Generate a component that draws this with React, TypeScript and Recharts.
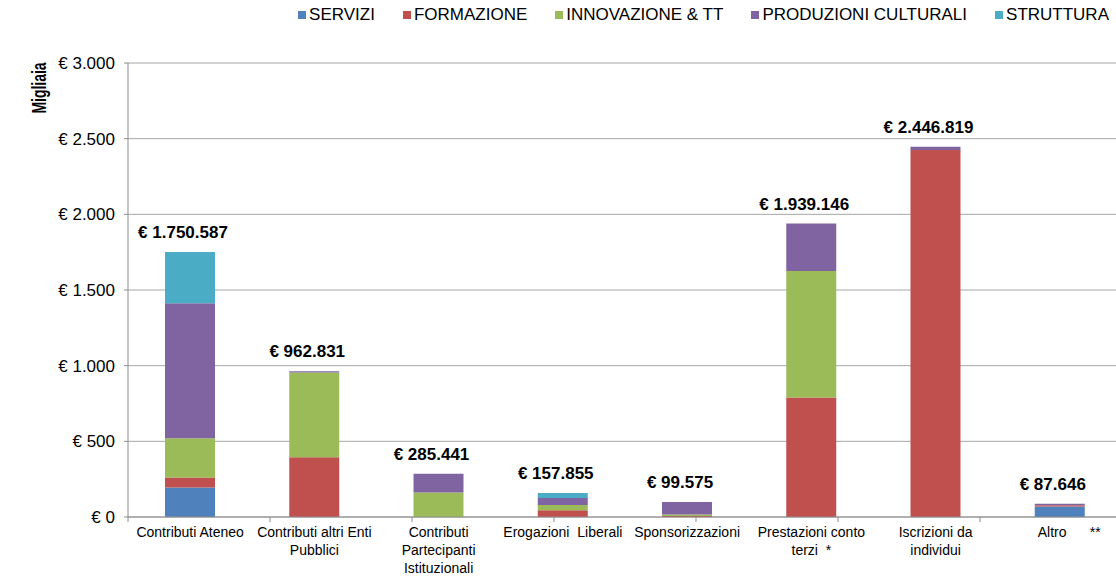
import React from 'react';
import { BarChart, Bar, XAxis, YAxis, CartesianGrid, Legend, LabelList, Label } from 'recharts';

// Categories (tick labels, "\n" = line break)
const categories = [
  'Contributi Ateneo',
  'Contributi altri Enti\nPubblici',
  'Contributi\nPartecipanti\nIstituzionali',
  'Erogazioni  Liberali',
  'Sponsorizzazioni',
  'Prestazioni conto\nterzi  *',
  'Iscrizioni da\nindividui',
  '     Altro      **',
];

// Series values (thousands of euro)
const servizi = [195, 0, 0, 0, 0, 0, 0, 70];
const formazione = [66, 395, 0, 45, 7, 790, 2425, 8];
const innovazione = [260, 560, 162, 35, 10, 835, 0, 0];
const produzioni = [892, 7.8, 123.4, 46, 82.6, 314.1, 21.8, 9.6];
const struttura = [337.6, 0, 0, 31.9, 0, 0, 0, 0];

// Totals shown above bars (euro)
const totals = [1750587, 962831, 285441, 157855, 99575, 1939146, 2446819, 87646];

// Y axis ticks
const yTicks = [0, 500, 1000, 1500, 2000, 2500, 3000];
const boundaryTicks = [0, 1, 2, 3, 4, 5, 6, 7, 8];

const series = [
  { key: 'servizi', name: 'SERVIZI', color: '#4F81BD', values: servizi },
  { key: 'formazione', name: 'FORMAZIONE', color: '#C0504D', values: formazione },
  { key: 'innovazione', name: 'INNOVAZIONE & TT', color: '#9BBB59', values: innovazione },
  { key: 'produzioni', name: 'PRODUZIONI CULTURALI', color: '#8064A2', values: produzioni },
  { key: 'struttura', name: 'STRUTTURA', color: '#4BACC6', values: struttura },
];

// index of the topmost non-zero series for each category
const topSeries = categories.map((_, i) => {
  let top = 0;
  series.forEach((s, k) => {
    if (s.values[i] > 0) top = k;
  });
  return top;
});

const data = categories.map((c, i) => {
  const row: any = { name: c, total: totals[i] };
  series.forEach((s, k) => {
    row[s.key] = s.values[i];
    row['label_' + s.key] = topSeries[i] === k ? totals[i] : null;
  });
  return row;
});

const dotted = (n: number) => String(n).replace(/\B(?=(\d{3})+(?!\d))/g, '.');
const euro = (n: number) => '€ ' + dotted(n);

const XTick = (props: any) => {
  const { x, y, payload } = props;
  const lines = String(payload.value).split('\n');
  return (
    <text x={x} y={y} textAnchor="middle" fontSize={14} fill="#000" style={{ whiteSpace: 'pre' }}>
      {lines.map((l, i) => (
        <tspan key={i} x={x} dy={i === 0 ? 19 : 18}>
          {l}
        </tspan>
      ))}
    </text>
  );
};

const EmptyTick = () => null;

const YTick = (props: any) => {
  const { x, y, payload } = props;
  return (
    <text x={x} y={y} dy="0.355em" textAnchor="end" fontSize={17} fill="#000">
      {euro(payload.value)}
    </text>
  );
};

const TotalLabel = (props: any) => {
  const v = props.value;
  if (v == null || v === '') return null;
  const vb = props.viewBox || {};
  const bx = vb.x ?? props.x;
  const bw = vb.width ?? props.width;
  const by = vb.y ?? props.y;
  const bh = vb.height ?? props.height ?? 0;
  const top = Math.min(by, by + bh);
  return (
    <text x={bx + bw / 2 - 7} y={top - 14} textAnchor="middle" fontSize={17} fontWeight="bold" fill="#000">
      {euro(Number(v))}
    </text>
  );
};

const MigliaiaLabel = (props: any) => {
  const vb = props.viewBox || { x: 0, y: 63 };
  const cx = vb.x + 39;
  const cy = vb.y + 25;
  return (
    <text
      x={cx}
      y={cy}
      transform={`rotate(-90, ${cx}, ${cy})`}
      textAnchor="middle"
      dominantBaseline="central"
      fontSize={20}
      fontWeight="bold"
      fill="#000"
      textLength={51}
      lengthAdjust="spacingAndGlyphs"
    >
      Migliaia
    </text>
  );
};

const LegendContent = () => (
  <div style={{ position: 'relative', height: 0 }}>
    <div
      style={{
        position: 'absolute',
        top: 5,
        right: 7,
        display: 'flex',
        gap: 28,
        whiteSpace: 'nowrap',
        fontSize: 17,
        color: '#000',
        lineHeight: '20px',
      }}
    >
      {series.map((s) => (
        <div key={s.key} style={{ display: 'flex', alignItems: 'center' }}>
          <span style={{ display: 'inline-block', width: 8, height: 8, background: s.color, marginRight: 3 }} />
          {s.name}
        </div>
      ))}
    </div>
  </div>
);

export default function App() {
  return (
    <div
      style={{
        position: 'absolute',
        left: 0,
        top: 0,
        width: 1116,
        height: 578,
        overflow: 'hidden',
        background: '#fff',
        fontFamily: '"Liberation Sans", Arial, Helvetica, sans-serif',
      }}
    >
      <BarChart width={1130} height={578} data={data} margin={{ top: 63, right: 8, bottom: 0, left: 0 }}>
        <CartesianGrid xAxisId="b" vertical={false} stroke="#a6a6a6" strokeWidth={1} />
        <XAxis
          xAxisId="a"
          type="number"
          domain={[0, 8]}
          ticks={boundaryTicks}
          allowDataOverflow
          interval={0}
          tick={<EmptyTick />}
          tickSize={5}
          height={1}
          axisLine={{ stroke: '#8c8c8c' }}
          tickLine={{ stroke: '#8c8c8c' }}
        />
        <XAxis
          xAxisId="b"
          dataKey="name"
          type="category"
          interval={0}
          axisLine={false}
          tickLine={false}
          tickSize={0}
          tickMargin={0}
          height={60}
          tick={<XTick />}
        />
        <YAxis
          width={128}
          domain={[0, 3000]}
          ticks={yTicks}
          interval={0}
          tickSize={4}
          tickMargin={9}
          axisLine={{ stroke: '#8c8c8c' }}
          tickLine={{ stroke: '#8c8c8c' }}
          tick={<YTick />}
        >
          <Label content={<MigliaiaLabel />} />
        </YAxis>
        <Legend verticalAlign="top" wrapperStyle={{ top: 0, left: 0, width: 1116 }} content={<LegendContent />} />
        {series.map((s) => (
          <Bar
            key={s.key}
            xAxisId="b"
            dataKey={s.key}
            name={s.name}
            stackId="a"
            fill={s.color}
            barSize={50}
            isAnimationActive={false}
          >
            <LabelList dataKey={'label_' + s.key} content={<TotalLabel />} />
          </Bar>
        ))}
      </BarChart>
    </div>
  );
}
